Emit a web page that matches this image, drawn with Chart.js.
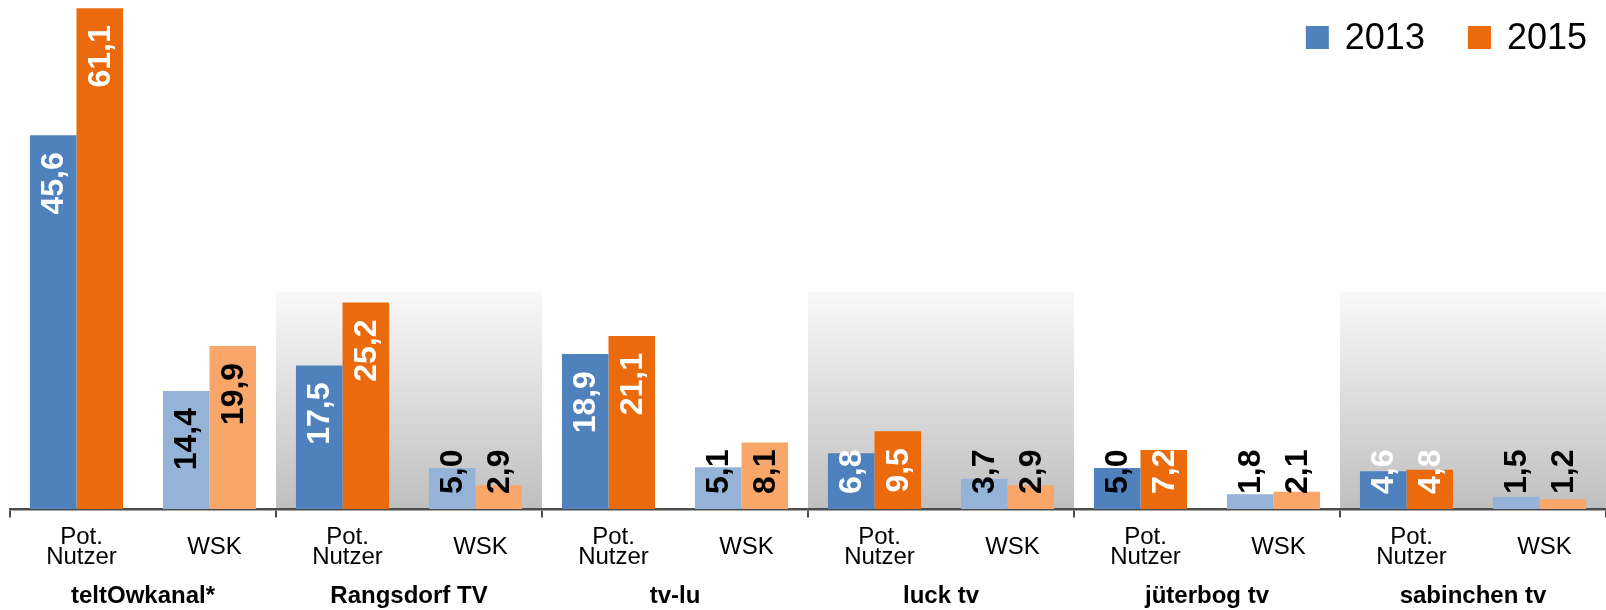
<!DOCTYPE html>
<html>
<head>
<meta charset="utf-8">
<script src="https://cdn.jsdelivr.net/npm/chart.js@4/dist/chart.umd.min.js"></script>
<style>
  html, body { margin: 0; padding: 0; background: #fff; }
  #wrap { width: 1606px; height: 610px; position: relative; }
</style>
</head>
<body>
<div id="wrap"><canvas id="chart"></canvas></div>
<script>
// Sender und Kennzahlen
const groups = ["teltOwkanal*", "Rangsdorf TV", "tv-lu", "luck tv", "jüterbog tv", "sabinchen tv"];
const categories = [
    ["Pot.", "Nutzer"], "WSK",
    ["Pot.", "Nutzer"], "WSK",
    ["Pot.", "Nutzer"], "WSK",
    ["Pot.", "Nutzer"], "WSK",
    ["Pot.", "Nutzer"], "WSK",
    ["Pot.", "Nutzer"], "WSK"
];

const years = ["2013", "2015"];
const values2013 = [45.6, 14.4, 17.5, 5.0, 18.9, 5.1, 6.8, 3.7, 5.0, 1.8, 4.6, 1.5];
const values2015 = [61.1, 19.9, 25.2, 2.9, 21.1, 8.1, 9.5, 2.9, 7.2, 2.1, 4.8, 1.2];

const yMax = 62.1;
const shadeFrom = 26.5;        // graue Felder beginnen ab diesem Wert
const shadedGroups = [1, 3, 5]; // Rangsdorf TV, luck tv, sabinchen tv

// Farben
const dark = ["#4f81bd", "#eb6a0c"];
const light = ["#95b3d7", "#f9a66a"];
const W = "#ffffff", B = "#000000";
const labelColors2013 = [W, B, W, B, W, B, W, B, B, B, W, B];
const labelColors2015 = [W, B, W, B, W, B, W, B, W, B, W, B];

const fontFamily = "'Liberation Sans', Arial, sans-serif";
Chart.defaults.font.family = fontFamily;

// graue Verlaufsflächen hinter jeder zweiten Gruppe
const shadePlugin = {
    id: "shade",
    beforeDraw(chart) {
        const { ctx, chartArea, scales: { x, y } } = chart;
        const top = y.getPixelForValue(shadeFrom);
        const grad = ctx.createLinearGradient(0, top, 0, chartArea.bottom);
        grad.addColorStop(0, "#f9f9f9");
        grad.addColorStop(1, "#bfbfbf");
        ctx.save();
        ctx.fillStyle = grad;
        shadedGroups.forEach(g => {
            const l = x.getPixelForValue(g * 2 - 0.5);
            const r = x.getPixelForValue(g * 2 + 1.5);
            ctx.fillRect(l, top, r - l, chartArea.bottom - top);
        });
        ctx.restore();
    }
};

// senkrechte Werte in den Balken
const valuePlugin = {
    id: "values",
    afterDatasetsDraw(chart) {
        const { ctx } = chart;
        ctx.save();
        ctx.font = "bold 32px " + fontFamily;
        ctx.textAlign = "right";
        ctx.textBaseline = "middle";
        chart.data.datasets.forEach((ds, di) => {
            chart.getDatasetMeta(di).data.forEach((bar, i) => {
                const txt = ds.data[i].toFixed(1).replace(".", ",");
                const w = ctx.measureText(txt).width;
                let top = bar.y + 17;
                if (top + w > bar.base - 15) top = bar.base - 15 - w;
                ctx.save();
                ctx.translate(bar.x, top);
                ctx.rotate(-Math.PI / 2);
                ctx.fillStyle = ds.labelColors[i];
                ctx.fillText(txt, 0, 1);
                ctx.restore();
            });
        });
        ctx.restore();
    }
};

// Legende oben rechts im Diagramm
const legendPlugin = {
    id: "cornerLegend",
    afterDraw(chart) {
        const { ctx, chartArea } = chart;
        const box = 23, gap = 16, space = 43, yMid = 37.5;
        ctx.save();
        ctx.font = "36px " + fontFamily;
        ctx.textBaseline = "middle";
        const items = chart.data.datasets.map(ds => ({
            text: ds.label, color: ds.legendColor, w: ctx.measureText(ds.label).width
        }));
        const total = items.reduce((s, it) => s + box + gap + it.w, 0) + space * (items.length - 1);
        let x = chartArea.right - 19 - total;
        items.forEach(it => {
            ctx.fillStyle = it.color;
            ctx.fillRect(x, yMid - box / 2, box, box);
            ctx.fillStyle = "#000";
            ctx.fillText(it.text, x + box + gap, yMid + 2);
            x += box + gap + it.w + space;
        });
        ctx.restore();
    }
};

new Chart(document.getElementById("chart"), {
    type: "bar",
    data: {
        datasets: [
            {
                label: years[0],
                data: values2013,
                backgroundColor: c => c.dataIndex % 2 ? light[0] : dark[0],
                legendColor: dark[0],
                labelColors: labelColors2013
            },
            {
                label: years[1],
                data: values2015,
                backgroundColor: c => c.dataIndex % 2 ? light[1] : dark[1],
                legendColor: dark[1],
                labelColors: labelColors2015
            }
        ]
    },
    options: {
        responsive: true,
        maintainAspectRatio: false,
        animation: false,
        layout: { padding: { left: 10, right: 0, top: 0, bottom: 2 } },
        datasets: { bar: { categoryPercentage: 0.7, barPercentage: 1 } },
        plugins: {
            legend: { display: false },
            tooltip: { enabled: false }
        },
        scales: {
            x: {
                labels: categories,
                offset: true,
                grid: {
                    offset: true,
                    drawOnChartArea: false,
                    tickLength: 28,
                    tickBorderDash: [7, 60],
                    lineWidth: 2,
                    color: c => (c.index === undefined || c.index % 2 === 0) ? "#4d4d4d" : "rgba(0,0,0,0)"
                },
                border: { color: "#4d4d4d", width: 2.5 },
                ticks: {
                    color: "#000",
                    font: { size: 24, lineHeight: 20 / 24 },
                    padding: 0,
                    labelOffset: 5,
                    crossAlign: "center",
                    maxRotation: 0,
                    autoSkip: false
                }
            },
            x2: {
                type: "category",
                labels: groups,
                position: "bottom",
                weight: 1,
                offset: true,
                grid: {
                    offset: true,
                    drawOnChartArea: false,
                    color: "rgba(0,0,0,0)",
                    tickLength: 7
                },
                border: { display: false },
                ticks: {
                    color: "#000",
                    font: { size: 24, weight: "bold", lineHeight: 1 },
                    padding: 0,
                    maxRotation: 0,
                    autoSkip: false
                }
            },
            y: { display: false, min: 0, max: yMax }
        }
    },
    plugins: [shadePlugin, valuePlugin, legendPlugin]
});
</script>
</body>
</html>
